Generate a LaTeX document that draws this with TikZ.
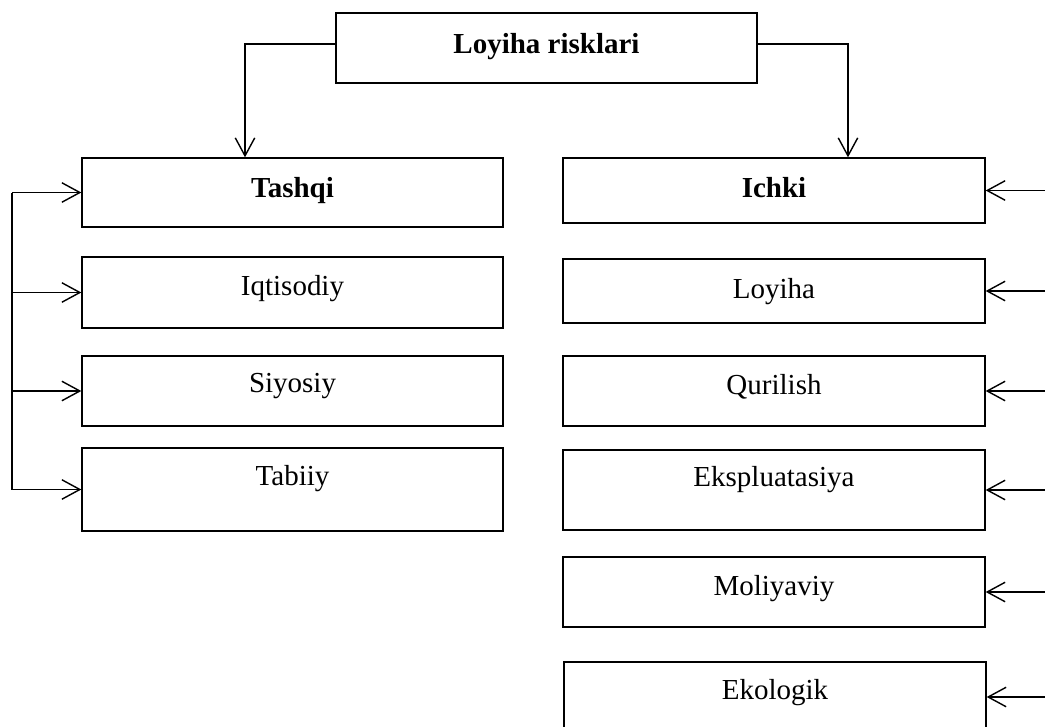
\documentclass[tikz,border=0pt]{standalone}
\usepackage{fontspec}
\setmainfont{Liberation Serif}
\usetikzlibrary{arrows.meta}

\begin{document}
\begin{tikzpicture}[x=0.02cm, y=-0.02cm,
    box/.style={draw, rectangle, line width=0.8pt, inner sep=0pt, text height=10.9pt, font=\fontsize{16.5}{20}\selectfont},
    lbox/.style={box, minimum width=8.42cm},
    rbox/.style={box, minimum width=8.44cm},
    arr/.style={line width=0.8pt, -{Straight Barb[length=3.6mm, width=3.9mm, line width=0.8pt]}}]
    \clip (0,0) rectangle (1045,727);

    \node (risk) [lbox, minimum height=1.4cm, text depth=0.16cm] at (546.5,48) {\textbf{Loyiha risklari}};

    % tashqi riskler
    \node (tashqi) [lbox, minimum height=1.38cm, text depth=0.2cm] at (292.5,192.5) {\textbf{Tashqi}};
    \node (iqtisodiy) [lbox, minimum height=1.42cm, text depth=0.28cm] at (292.5,292.5) {Iqtisodiy};
    \node (siyosiy) [lbox, minimum height=1.4cm, text depth=0.32cm] at (292.5,391) {Siyosiy};
    \node (tabiiy) [lbox, minimum height=1.66cm, text depth=0.56cm] at (292.5,489.5) {Tabiiy};

    % ichki riskler
    \node (ichki) [rbox, minimum height=1.3cm, text depth=0.12cm] at (774,190.5) {\textbf{Ichki}};
    \node (loyiha) [rbox, minimum height=1.28cm, text depth=0.08cm] at (774,291) {Loyiha};
    \node (qurilish) [rbox, minimum height=1.4cm, text depth=0.24cm] at (774,391) {Qurilish};
    \node (eksp) [rbox, minimum height=1.6cm, text depth=0.52cm] at (774,490) {Ekspluatasiya};
    \node (moliya) [rbox, minimum height=1.4cm, text depth=0.24cm] at (774,592) {Moliyaviy};
    \node (ekolog) [rbox, minimum height=1.4cm, text depth=0.3cm] at (775,697) {Ekologik};

    \coordinate (lbus) at (12,0);
    \coordinate (rbus) at (1045,0);

    \draw[arr] ([yshift=0.08cm]risk.west) -| ([xshift=-0.95cm]tashqi.north);
    \draw[arr] ([yshift=0.08cm]risk.east) -| ([xshift=1.48cm]ichki.north);

    \draw[line width=0.8pt] (lbus |- tashqi.west) -- (lbus |- tabiiy.west);
    \foreach \n in {tashqi, iqtisodiy, siyosiy, tabiiy}
        \draw[arr] (lbus |- \n.west) -- (\n.west);
    \foreach \n in {ichki, loyiha, qurilish, eksp, moliya, ekolog}
        \draw[arr] (rbus |- \n.east) -- (\n.east);
\end{tikzpicture}
\end{document}
